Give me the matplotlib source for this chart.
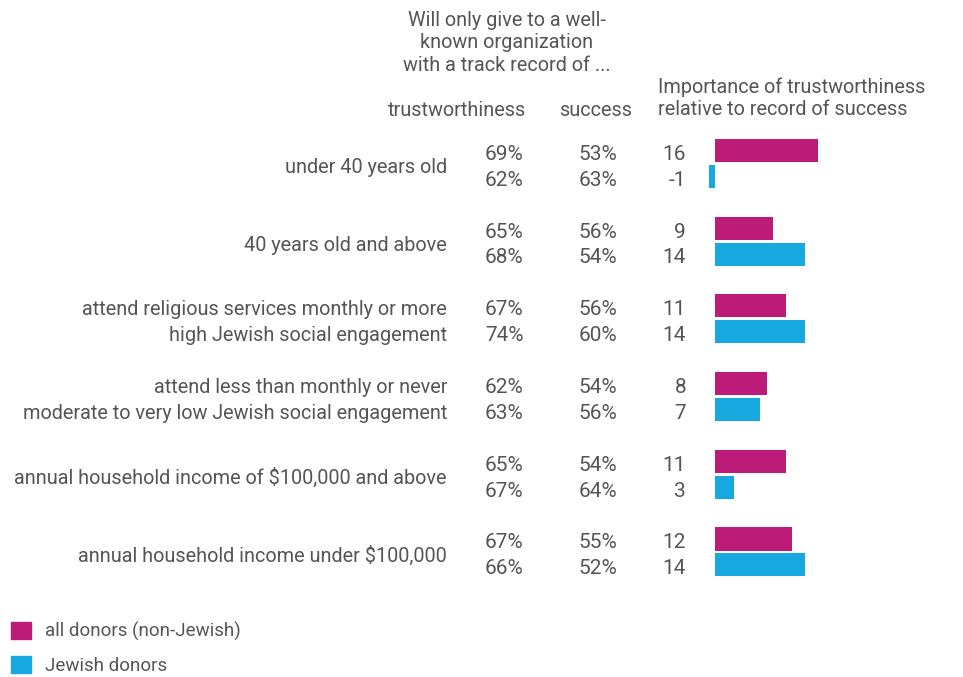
import matplotlib
matplotlib.use("Agg")
import matplotlib.pyplot as plt
import matplotlib.transforms as mtransforms
from matplotlib.patches import Patch

# group labels (one or two lines, right aligned next to the numbers)
groups = [
    ["under 40 years old"],
    ["40 years old and above"],
    ["attend religious services monthly or more", "high Jewish social engagement"],
    ["attend less than monthly or never", "moderate to very low Jewish social engagement"],
    ["annual household income of $100,000 and above"],
    ["annual household income under $100,000"],
]

# per group: [all donors, Jewish donors]
trust = [[69, 62], [65, 68], [67, 74], [62, 63], [65, 67], [67, 66]]
success = [[53, 63], [56, 54], [56, 60], [54, 56], [54, 64], [55, 52]]
diff = [[16, -1], [9, 14], [11, 14], [8, 7], [11, 3], [12, 14]]

series = ["all donors (non-Jewish)", "Jewish donors"]
colors = ["#bc1c78", "#17a8e0"]
gray = "#555555"

plt.rcParams["font.family"] = ["Roboto", "DejaVu Sans"]

W, H = 963, 677
fig = plt.figure(figsize=(W / 100, H / 100), dpi=100)

# bar axes, pixel box from x=700..840, y=120..600
ax = fig.add_axes([700 / W, 1 - 600 / H, 140 / W, 480 / H])
px_per_unit = 6.44
ax.set_xlim(-15 / px_per_unit, 125 / px_per_unit)
row_px = 25.9
ax.set_ylim((600 - 150.5) / row_px, (120 - 150.5) / row_px)
ax.axis("off")

# x in figure pixels, y in row units
trans = mtransforms.blended_transform_factory(
    mtransforms.Affine2D().scale(1 / W, 1) + fig.transFigure, ax.transData)

fs = 14.3
nfs = 15
dy = 0.15  # text sits a little below the bar centre
for g in range(len(groups)):
    for r in range(2):
        y = g * 3 + r
        ax.barh(y, diff[g][r], height=0.89, color=colors[r])
        fig.text(504, y + dy, f"{trust[g][r]}%", transform=trans, ha="center",
                 va="center", fontsize=nfs, color=gray)
        fig.text(598, y + dy, f"{success[g][r]}%", transform=trans, ha="center",
                 va="center", fontsize=nfs, color=gray)
        fig.text(686, y + dy, str(diff[g][r]), transform=trans, ha="right",
                 va="center", fontsize=nfs, color=gray)
    lab = groups[g]
    if len(lab) == 1:
        fig.text(447, g * 3 + 0.5 + dy, lab[0], transform=trans, ha="right",
                 va="center", fontsize=fs, color=gray)
    else:
        for r, s in enumerate(lab):
            fig.text(447, g * 3 + r + dy, s, transform=trans, ha="right",
                     va="center", fontsize=fs, color=gray)

# column headers
fig.text(507 / W, 1 - 43 / H, "Will only give to a well-\nknown organization\nwith a track record of ...",
         ha="center", va="center", fontsize=fs, color=gray, linespacing=1.22)
fig.text(457 / W, 1 - 111 / H, "trustworthiness", ha="center", va="center",
         fontsize=fs, color=gray)
fig.text(596 / W, 1 - 111 / H, "success", ha="center", va="center",
         fontsize=fs, color=gray)
fig.text(658 / W, 1 - 98 / H, "Importance of trustworthiness\nrelative to record of success",
         ha="left", va="center", fontsize=fs, color=gray, linespacing=1.22)

handles = [Patch(color=c, label=s) for c, s in zip(colors, series)]
leg = fig.legend(handles=handles, loc="lower left", bbox_to_anchor=(11 / W, 2 / H),
                 frameon=False, fontsize=13.5, handlelength=1.05, handleheight=1.05,
                 labelspacing=0.8, handletextpad=0.75, borderpad=0, borderaxespad=0)
for t in leg.get_texts():
    t.set_color(gray)

fig.savefig("out.png", dpi=100)
